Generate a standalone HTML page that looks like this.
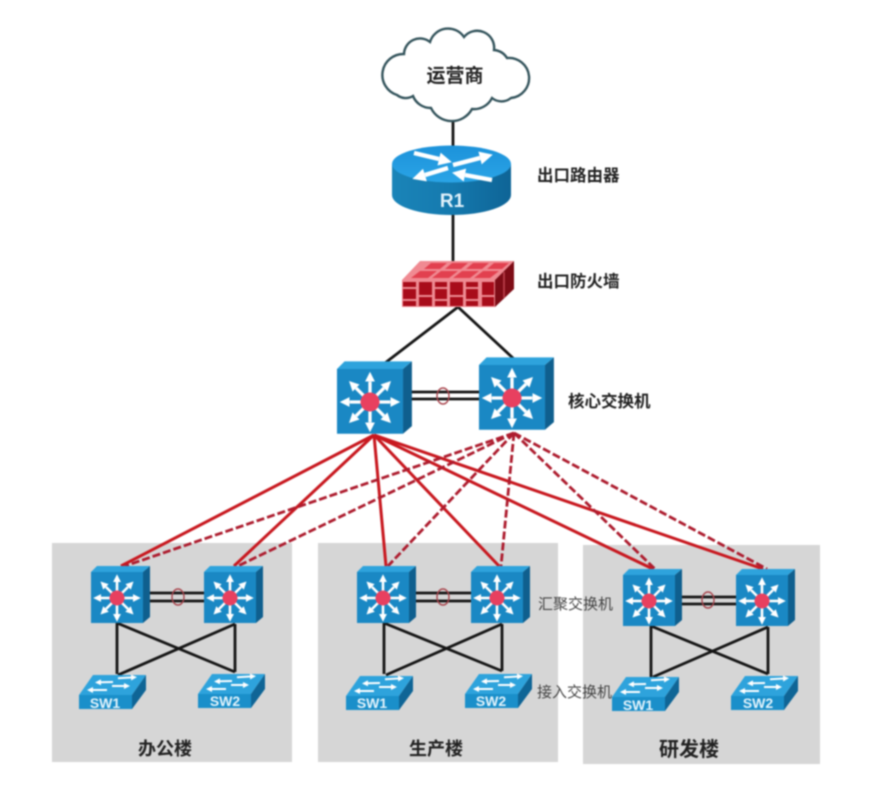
<!DOCTYPE html>
<html lang="zh">
<head>
<meta charset="utf-8">
<title>网络拓扑图</title>
<style>
html,body{margin:0;padding:0;background:#fff;width:870px;height:795px;overflow:hidden}
svg{display:block;filter:blur(0.7px)}
text{font-family:"Liberation Sans","Noto Sans CJK SC",sans-serif}
.b{font-weight:700;fill:#222}
.g{font-weight:400;fill:#444}
.k{stroke:#151515;stroke-width:2.8;fill:none}
.r{stroke:#c8181f;stroke-width:3;fill:none}
.d{stroke:#ad1c2e;stroke-width:2.8;fill:none;stroke-dasharray:8 3}
.o{stroke:#a8444c;stroke-width:1.4;fill:none}
.w{font-family:"Liberation Sans",sans-serif;font-weight:700;fill:#e4f4fc;font-size:14px}
</style>
</head>
<body>
<svg width="870" height="795" viewBox="0 0 870 795" xmlns="http://www.w3.org/2000/svg">
<defs>
<marker id="ah" markerWidth="3" markerHeight="3" refX="0" refY="1.5" orient="auto" markerUnits="strokeWidth"><path d="M0 0L3 1.5L0 3Z" fill="#fff"/></marker>
<linearGradient id="rt" x1="0" y1="0" x2="0" y2="1"><stop offset="0" stop-color="#1c92da"/><stop offset="1" stop-color="#2aa4e6"/></linearGradient>
<linearGradient id="rb" x1="0" y1="0" x2="1" y2="0"><stop offset="0" stop-color="#1a84b8"/><stop offset=".5" stop-color="#1479ae"/><stop offset="1" stop-color="#0e6496"/></linearGradient>
<g id="sw3">
<polygon points="-26,-26 -20,-32 33,-32 26,-26" fill="#2ea3dc"/>
<polygon points="26,-26 33,-32 33,19 26,25" fill="#0f5f8e"/>
<rect x="-26" y="-26" width="52" height="51" fill="#1a88c4"/>
<g stroke="#fff" stroke-width="2.6">
<line x1="0" y1="0" x2="0" y2="-16" marker-end="url(#ah)"/>
<line x1="0" y1="0" x2="0" y2="16" marker-end="url(#ah)"/>
<line x1="0" y1="0" x2="-16" y2="0" marker-end="url(#ah)"/>
<line x1="0" y1="0" x2="16" y2="0" marker-end="url(#ah)"/>
<line x1="0" y1="0" x2="-11" y2="-11" marker-end="url(#ah)"/>
<line x1="0" y1="0" x2="11" y2="-11" marker-end="url(#ah)"/>
<line x1="0" y1="0" x2="-11" y2="11" marker-end="url(#ah)"/>
<line x1="0" y1="0" x2="11" y2="11" marker-end="url(#ah)"/>
</g>
<circle cx="0" cy="0" r="7.5" fill="#e8405f"/>
</g>
<g id="sw2">
<polygon points="0,0 14,-20 67,-20 53,0" fill="#2ea3dc"/>
<polygon points="53,0 67,-20 67,-5 53,14" fill="#0f6596"/>
<rect x="0" y="0" width="53" height="14" fill="#1a8fca"/>
<g stroke="#fff" stroke-width="2">
<line x1="39" y1="-16.7" x2="52" y2="-17.5" marker-end="url(#ah)"/>
<line x1="34" y1="-13" x2="22" y2="-12.7" marker-end="url(#ah)"/>
<line x1="33" y1="-9" x2="45" y2="-9" marker-end="url(#ah)"/>
<line x1="28" y1="-5" x2="14" y2="-5" marker-end="url(#ah)"/>
</g>
</g>
</defs>

<rect width="870" height="795" fill="#fff"/>

<!-- panels -->
<rect x="52" y="543" width="240" height="219" fill="#d6d6d6"/>
<rect x="318" y="543" width="240" height="219" fill="#d6d6d6"/>
<rect x="583" y="545" width="237" height="219" fill="#d6d6d6"/>

<!-- top lines -->
<line class="k" x1="453" y1="112" x2="453" y2="150"/>
<line class="k" x1="453" y1="212" x2="453" y2="266"/>
<line class="k" x1="458" y1="307" x2="385" y2="363"/>
<line class="k" x1="458" y1="307" x2="514" y2="359"/>

<!-- cloud -->
<path d="M397 95A21 21 0 0 1 404 54A16 16 0 0 1 430 42A19 19 0 0 1 464 37A17 17 0 0 1 494 50A17 17 0 0 1 507 58A20 20 0 0 1 511 98A15 15 0 0 1 492 98A20 20 0 0 1 472 109A23 23 0 0 1 431 108A19 19 0 0 1 413 96A14 14 0 0 1 397 95Z" fill="#fff" stroke="#34545c" stroke-width="2.4"/>
<text class="b" x="455" y="82" font-size="19" text-anchor="middle">运营商</text>

<!-- router -->
<path d="M392 164V195A59.5 20 0 0 0 511 195V164Z" fill="url(#rb)"/>
<ellipse cx="451.5" cy="164" rx="59.5" ry="18.5" fill="url(#rt)"/>
<g stroke="#fff" stroke-width="4.4">
<line x1="414" y1="153" x2="439" y2="159" marker-end="url(#ah)"/>
<line x1="453" y1="165" x2="480" y2="158" marker-end="url(#ah)"/>
<line x1="448" y1="168" x2="425" y2="175" marker-end="url(#ah)"/>
<line x1="492" y1="180" x2="465" y2="175" marker-end="url(#ah)"/>
</g>
<text x="452" y="207" font-size="19" font-weight="700" fill="#e2f2fb" text-anchor="middle" style="font-family:'Liberation Sans',sans-serif">R1</text>

<!-- firewall -->
<polygon points="402,280 420,261 514,261 495,280" fill="#f08a92"/>
<polygon points="495,280 514,261 514,289 495,307" fill="#7e0c16"/>
<rect x="402" y="280" width="93" height="27" fill="#ee8b92"/>
<g fill="#e2404f">
<polygon points="424,269 431,263 447,263 440,269"/>
<polygon points="445,269 452,263 468,263 461,269"/>
<polygon points="466,269 473,263 489,263 482,269"/>
<polygon points="487,269 494,263 509,263 502,269"/>
<polygon points="411,278 420,271 437,271 428,278"/>
<polygon points="432,278 441,271 458,271 449,278"/>
<polygon points="453,278 462,271 479,271 470,278"/>
<polygon points="474,278 483,271 499,271 490,278"/>
</g>
<g fill="#a80c1a">
<rect x="403" y="282" width="13" height="5"/><rect x="403" y="289" width="13" height="10"/><rect x="403" y="301" width="13" height="5"/>
<rect x="419" y="282" width="13" height="13"/><rect x="419" y="297" width="13" height="9"/>
<rect x="435" y="282" width="12" height="5"/><rect x="435" y="289" width="12" height="10"/><rect x="435" y="301" width="12" height="5"/>
<rect x="450" y="282" width="13" height="13"/><rect x="450" y="297" width="13" height="9"/>
<rect x="466" y="282" width="12" height="5"/><rect x="466" y="289" width="12" height="10"/><rect x="466" y="301" width="12" height="5"/>
<rect x="482" y="282" width="12" height="13"/><rect x="482" y="297" width="12" height="9"/>
</g>
<path d="M504 272V298" stroke="#c04450" stroke-width="1.5"/>

<!-- red links -->
<line class="r" x1="374" y1="435" x2="121" y2="566"/>
<line class="r" x1="374" y1="435" x2="234" y2="566"/>
<line class="r" x1="374" y1="435" x2="386" y2="566"/>
<line class="r" x1="374" y1="435" x2="499" y2="566"/>
<line class="r" x1="374" y1="435" x2="653" y2="569"/>
<line class="r" x1="374" y1="435" x2="763" y2="569"/>
<line class="d" x1="514" y1="433" x2="125" y2="566"/>
<line class="d" x1="514" y1="433" x2="238" y2="566"/>
<line class="d" x1="514" y1="433" x2="388" y2="566"/>
<line class="d" x1="514" y1="433" x2="501" y2="566"/>
<line class="d" x1="514" y1="433" x2="655" y2="569"/>
<line class="d" x1="514" y1="433" x2="767" y2="569"/>

<!-- core -->
<path class="k" d="M409 392H480M409 399H480"/>
<ellipse class="o" cx="443" cy="396" rx="6" ry="8"/>
<use href="#sw3" transform="translate(370 402) scale(1.27)"/>
<use href="#sw3" transform="translate(512 398) scale(1.27)"/>

<!-- office building -->
<path class="k" d="M149 593H204M149 601H204"/>
<ellipse class="o" cx="178" cy="597" rx="6" ry="8"/>
<path class="k" d="M117 623V674M235 624V672M117 623L235 672M235 624L118 675"/>
<use href="#sw3" transform="translate(117 598)"/>
<use href="#sw3" transform="translate(230 598)"/>
<use href="#sw2" transform="translate(79 695)"/>
<use href="#sw2" transform="translate(198 694)"/>
<text class="w" x="105" y="708" text-anchor="middle">SW1</text>
<text class="w" x="225" y="706" text-anchor="middle">SW2</text>
<text class="b" x="165" y="755" font-size="18" text-anchor="middle">办公楼</text>

<!-- production building -->
<path class="k" d="M415 593H471M415 601H471"/>
<ellipse class="o" cx="443" cy="597" rx="6" ry="8"/>
<path class="k" d="M384 623V674M502 624V671M384 623L502 671M502 624L386 675"/>
<use href="#sw3" transform="translate(383 598)"/>
<use href="#sw3" transform="translate(497 598)"/>
<use href="#sw2" transform="translate(346 696)"/>
<use href="#sw2" transform="translate(465 694)"/>
<text class="w" x="372" y="708" text-anchor="middle">SW1</text>
<text class="w" x="491" y="706" text-anchor="middle">SW2</text>
<text class="b" x="436" y="755" font-size="18" text-anchor="middle">生产楼</text>

<!-- R&D building -->
<path class="k" d="M682 597H737M682 604H737"/>
<ellipse class="o" cx="708" cy="600" rx="6" ry="8"/>
<path class="k" d="M651 626V677M768 627V674M651 626L768 674M768 627L653 677"/>
<use href="#sw3" transform="translate(649 601)"/>
<use href="#sw3" transform="translate(762 601)"/>
<use href="#sw2" transform="translate(612 697)"/>
<use href="#sw2" transform="translate(731 696)"/>
<text class="w" x="638" y="710" text-anchor="middle">SW1</text>
<text class="w" x="758" y="708" text-anchor="middle">SW2</text>
<text class="b" x="689" y="756" font-size="20" text-anchor="middle">研发楼</text>

<!-- labels -->
<text class="b" x="537" y="181" font-size="16.5">出口路由器</text>
<text class="b" x="537" y="287" font-size="16.5">出口防火墙</text>
<text class="b" x="568" y="407" font-size="16.5">核心交换机</text>
<text class="g" x="538" y="609" font-size="15">汇聚交换机</text>
<text class="g" x="537" y="697" font-size="15">接入交换机</text>
</svg>
</body>
</html>
